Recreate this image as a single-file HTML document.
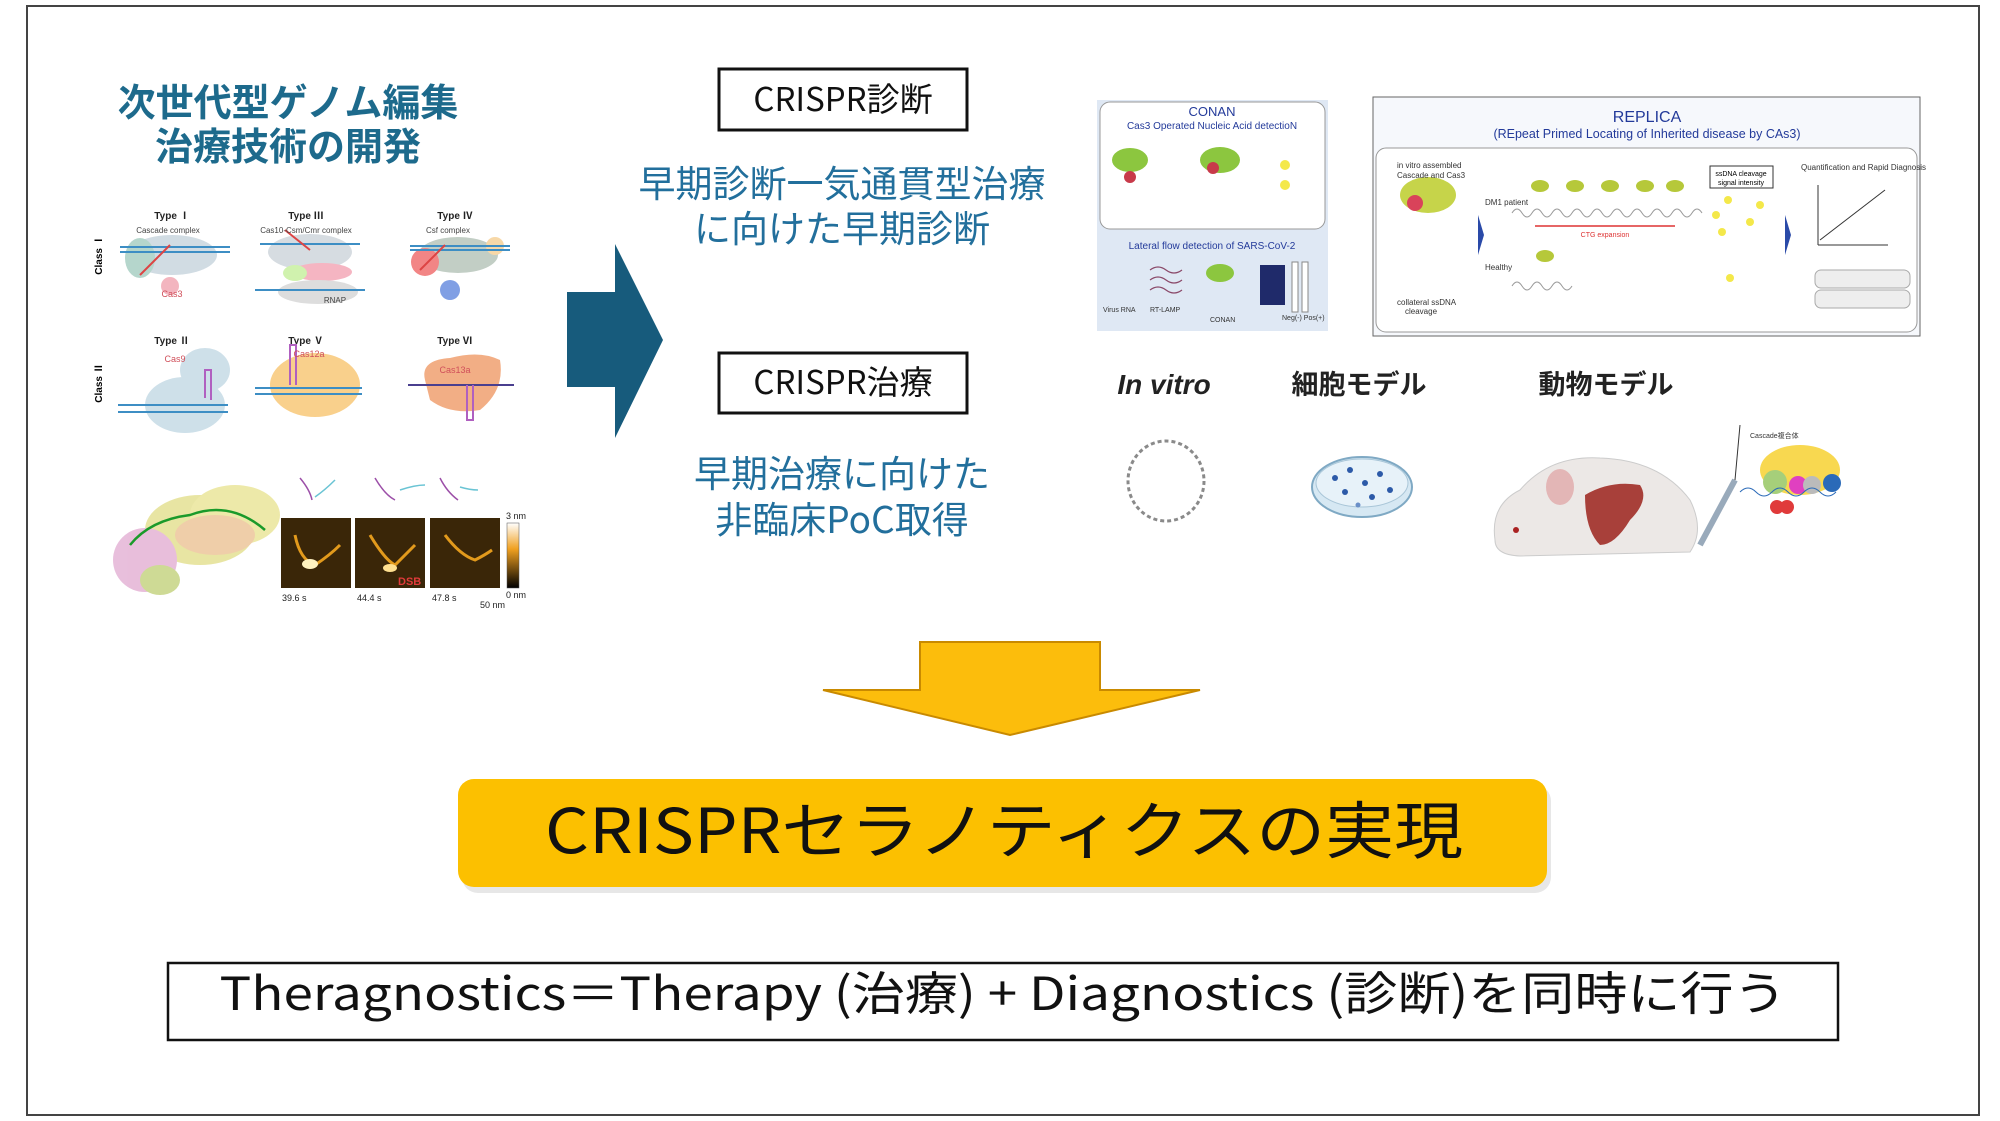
<!DOCTYPE html>
<html><head><meta charset="utf-8"><style>
html,body{margin:0;padding:0;background:#fff;}
svg{display:block;}
text{font-family:"Liberation Sans","Noto Sans CJK JP",sans-serif;}
.j{font-family:"Noto Sans CJK JP","Liberation Sans",sans-serif;}
</style></head><body>
<svg width="2000" height="1121" viewBox="0 0 2000 1121" xmlns="http://www.w3.org/2000/svg">
<rect x="0" y="0" width="2000" height="1121" fill="#fff"/>
<rect x="27" y="6" width="1952" height="1109" fill="none" stroke="#444" stroke-width="2"/>

<!-- Title -->
<text class="j" x="288" y="116" font-size="38" font-weight="bold" fill="#1d6a8c" text-anchor="middle">次世代型ゲノム編集</text>
<text class="j" x="288" y="160" font-size="38" font-weight="bold" fill="#1d6a8c" text-anchor="middle">治療技術の開発</text>

<!-- CRISPR types figure -->
<g font-size="10" font-weight="bold" fill="#222" text-anchor="middle">
<text x="172" y="219">Type Ⅰ</text><text x="306" y="219">Type Ⅲ</text><text x="455" y="219">Type Ⅳ</text>
<text x="172" y="344">Type Ⅱ</text><text x="306" y="344">Type Ⅴ</text><text x="455" y="344">Type Ⅵ</text>
</g>
<text x="102" y="255" font-size="10" font-weight="bold" transform="rotate(-90 102 255)" text-anchor="middle">Class Ⅰ</text>
<text x="102" y="383" font-size="10" font-weight="bold" transform="rotate(-90 102 383)" text-anchor="middle">Class Ⅱ</text>
<g opacity="0.85">
<ellipse cx="172" cy="255" rx="45" ry="20" fill="#c9d6df"/><ellipse cx="140" cy="258" rx="15" ry="20" fill="#a9cfc4"/><circle cx="170" cy="286" r="9" fill="#f2a9b4"/>
<ellipse cx="310" cy="252" rx="42" ry="18" fill="#cfd6dc"/><ellipse cx="322" cy="272" rx="30" ry="9" fill="#f4a9b8"/><ellipse cx="318" cy="292" rx="40" ry="12" fill="#d8d8d8"/><ellipse cx="295" cy="273" rx="12" ry="8" fill="#c8f0a0"/>
<ellipse cx="458" cy="255" rx="40" ry="18" fill="#b8c6bb"/><circle cx="425" cy="262" r="14" fill="#f07070"/><circle cx="450" cy="290" r="10" fill="#6a8fe0"/><circle cx="495" cy="246" r="9" fill="#f6d29a"/>
<ellipse cx="185" cy="405" rx="40" ry="28" fill="#c6dbe6"/><ellipse cx="205" cy="370" rx="25" ry="22" fill="#c6dbe6"/>
<ellipse cx="315" cy="385" rx="45" ry="32" fill="#f8c878"/>
<path d="M425 380 Q420 360 450 358 Q480 350 500 360 Q505 390 480 410 Q450 415 430 400Z" fill="#f0a070"/>
</g>
<g stroke="#3d8ec4" stroke-width="2" fill="none">
<line x1="120" y1="247" x2="230" y2="247"/><line x1="120" y1="252" x2="230" y2="252"/>
<line x1="260" y1="244" x2="360" y2="244"/><line x1="255" y1="290" x2="365" y2="290"/>
<line x1="410" y1="246" x2="510" y2="246"/><line x1="410" y1="250" x2="510" y2="250"/>
<line x1="118" y1="405" x2="228" y2="405"/><line x1="118" y1="412" x2="228" y2="412"/>
<line x1="255" y1="388" x2="362" y2="388"/><line x1="255" y1="394" x2="362" y2="394"/>
<line x1="408" y1="385" x2="514" y2="385" stroke="#4a3f8f"/>
</g>
<g stroke="#d44" stroke-width="2" fill="none"><line x1="140" y1="275" x2="170" y2="245"/><line x1="285" y1="230" x2="310" y2="250"/><line x1="420" y1="270" x2="445" y2="245"/></g>
<g stroke="#b060c0" stroke-width="2" fill="none"><path d="M205 398 V370 h6 V400"/><path d="M290 385 V345 h6 V385"/><path d="M467 385 V420 h6 V385"/></g>
<g font-size="9" fill="#d04f5a" text-anchor="middle"><text x="172" y="297">Cas3</text><text x="175" y="362">Cas9</text><text x="309" y="357">Cas12a</text><text x="455" y="373">Cas13a</text></g>
<g font-size="8" fill="#444" text-anchor="middle"><text x="168" y="233">Cascade complex</text><text x="306" y="233">Cas10-Csm/Cmr complex</text><text x="448" y="233">Csf complex</text><text x="335" y="303">RNAP</text></g>

<!-- protein + AFM -->
<g opacity="0.9">
<ellipse cx="200" cy="530" rx="55" ry="35" fill="#e6e39a"/><ellipse cx="235" cy="515" rx="45" ry="30" fill="#ece7a0"/>
<ellipse cx="215" cy="535" rx="40" ry="20" fill="#eec9a0"/><ellipse cx="145" cy="560" rx="32" ry="32" fill="#e6b8d8"/><ellipse cx="160" cy="580" rx="20" ry="15" fill="#c9d68a"/>
</g>
<path d="M130 545 Q150 520 190 515 Q230 500 265 530" stroke="#1a9a2a" stroke-width="2.5" fill="none"/>
<g stroke="#9c4fa8" stroke-width="1.5" fill="none"><path d="M300 478 Q310 490 312 500"/><path d="M375 478 Q385 495 395 500"/><path d="M440 478 Q447 492 458 500"/></g>
<g stroke="#6ac4d4" stroke-width="1.5" fill="none"><path d="M315 497 Q325 490 335 480"/><path d="M400 490 Q415 485 425 485"/><path d="M460 487 Q470 490 478 490"/></g>
<rect x="281" y="518" width="70" height="70" fill="#3a2608"/><rect x="355" y="518" width="70" height="70" fill="#3a2608"/><rect x="430" y="518" width="70" height="70" fill="#3a2608"/>
<g stroke="#e29a1c" stroke-width="3" fill="none"><path d="M295 535 Q300 560 315 565 Q330 555 340 545"/><path d="M370 535 Q385 560 395 565 Q405 555 415 545"/><path d="M445 535 Q460 555 475 560 Q485 555 492 550"/></g>
<ellipse cx="310" cy="564" rx="8" ry="5" fill="#fff2c0"/><ellipse cx="390" cy="568" rx="7" ry="4" fill="#ffe090"/>
<defs><linearGradient id="cb" x1="0" y1="0" x2="0" y2="1"><stop offset="0" stop-color="#fff"/><stop offset="0.4" stop-color="#f0a020"/><stop offset="1" stop-color="#000"/></linearGradient></defs>
<rect x="507" y="523" width="12" height="65" fill="url(#cb)" stroke="#555" stroke-width="0.5"/>
<g font-size="9" fill="#222"><text x="282" y="601">39.6 s</text><text x="357" y="601">44.4 s</text><text x="432" y="601">47.8 s</text><text x="506" y="519">3 nm</text><text x="506" y="598">0 nm</text><text x="480" y="608">50 nm</text></g>
<text x="398" y="585" font-size="11" font-weight="bold" fill="#e03a3a">DSB</text>

<!-- right arrow -->
<polygon points="567,292 615,292 615,244 663,340 615,438 615,387 567,387" fill="#175b7c"/>

<!-- CRISPR boxes -->
<rect x="719" y="69" width="248" height="61" fill="#fff" stroke="#111" stroke-width="3"/>
<text class="j" x="843" y="111" font-size="33" fill="#111" text-anchor="middle">CRISPR診断</text>
<text class="j" x="842" y="197" font-size="37" fill="#226f9c" text-anchor="middle">早期診断一気通貫型治療</text>
<text class="j" x="842" y="242" font-size="37" fill="#226f9c" text-anchor="middle">に向けた早期診断</text>
<rect x="719" y="353" width="248" height="60" fill="#fff" stroke="#111" stroke-width="3"/>
<text class="j" x="843" y="394" font-size="33" fill="#111" text-anchor="middle">CRISPR治療</text>
<text class="j" x="842" y="487" font-size="37" fill="#226f9c" text-anchor="middle">早期治療に向けた</text>
<text class="j" x="842" y="533" font-size="37" fill="#226f9c" text-anchor="middle">非臨床PoC取得</text>

<!-- CONAN panel -->
<rect x="1097" y="100" width="231" height="231" fill="#dfe8f4"/>
<rect x="1100" y="102" width="225" height="127" rx="10" fill="#fff" stroke="#999" stroke-width="1"/>
<text x="1212" y="116" font-size="13" fill="#233a9a" text-anchor="middle">CONAN</text>
<text x="1212" y="129" font-size="10" fill="#233a9a" text-anchor="middle">Cas3 Operated Nucleic Acid detectioN</text>
<ellipse cx="1130" cy="160" rx="18" ry="12" fill="#8cc63f"/><circle cx="1130" cy="177" r="6" fill="#c83a4a"/>
<ellipse cx="1220" cy="160" rx="20" ry="13" fill="#8cc63f"/><circle cx="1213" cy="168" r="6" fill="#c83a4a"/>
<circle cx="1285" cy="165" r="5" fill="#f4e84a"/><circle cx="1285" cy="185" r="5" fill="#f4e84a"/>
<text x="1212" y="249" font-size="10" fill="#233a9a" text-anchor="middle">Lateral flow detection of SARS-CoV-2</text>
<g stroke="#8b4a6a" stroke-width="1.2" fill="none"><path d="M1150 270 q8 -6 16 0 t16 0"/><path d="M1150 280 q8 -6 16 0 t16 0"/><path d="M1150 290 q8 -6 16 0 t16 0"/></g>
<ellipse cx="1220" cy="273" rx="14" ry="9" fill="#8cc63f"/>
<rect x="1260" y="265" width="25" height="40" fill="#1f2a6a"/><rect x="1292" y="262" width="6" height="50" fill="#fff" stroke="#888"/><rect x="1302" y="262" width="6" height="50" fill="#fff" stroke="#888"/>
<g font-size="7" fill="#333"><text x="1103" y="312">Virus RNA</text><text x="1150" y="312">RT-LAMP</text><text x="1210" y="322">CONAN</text><text x="1282" y="320">Neg(-) Pos(+)</text></g>

<!-- REPLICA panel -->
<rect x="1373" y="97" width="547" height="239" fill="#f6f8fc" stroke="#666" stroke-width="1"/>
<text x="1647" y="122" font-size="16" fill="#233a9a" text-anchor="middle">REPLICA</text>
<text x="1647" y="138" font-size="12.5" fill="#233a9a" text-anchor="middle">(REpeat Primed Locating of Inherited disease by CAs3)</text>
<rect x="1376" y="148" width="541" height="184" rx="10" fill="#fff" stroke="#999"/>
<ellipse cx="1428" cy="195" rx="28" ry="18" fill="#c6d44a"/><circle cx="1415" cy="203" r="8" fill="#d9435a"/>
<g font-size="8" fill="#333"><text x="1397" y="168">in vitro assembled</text><text x="1397" y="178">Cascade and Cas3</text><text x="1397" y="305">collateral ssDNA</text><text x="1405" y="314">cleavage</text><text x="1485" y="205">DM1 patient</text><text x="1485" y="270">Healthy</text><text x="1801" y="170">Quantification and Rapid Diagnosis</text></g>
<path d="M1512 213 q5 -8 10 0 t10 0 t10 0 t10 0 t10 0 t10 0 t10 0 t10 0 t10 0 t10 0 t10 0 t10 0 t10 0 t10 0 t10 0 t10 0 t10 0 t10 0 t10 0" stroke="#999" fill="none"/>
<path d="M1512 286 q5 -8 10 0 t10 0 t10 0 t10 0 t10 0 t10 0" stroke="#999" fill="none"/>
<line x1="1535" y1="226" x2="1675" y2="226" stroke="#d33" stroke-width="1.5"/><text x="1605" y="237" font-size="7" fill="#d33" text-anchor="middle">CTG expansion</text>
<g fill="#b6c83a"><ellipse cx="1540" cy="186" rx="9" ry="6"/><ellipse cx="1575" cy="186" rx="9" ry="6"/><ellipse cx="1610" cy="186" rx="9" ry="6"/><ellipse cx="1645" cy="186" rx="9" ry="6"/><ellipse cx="1675" cy="186" rx="9" ry="6"/><ellipse cx="1545" cy="256" rx="9" ry="6"/></g>
<rect x="1710" y="166" width="63" height="22" fill="#fff" stroke="#333"/><text x="1741" y="176" font-size="7" text-anchor="middle">ssDNA cleavage</text><text x="1741" y="185" font-size="7" text-anchor="middle">signal intensity</text>
<g fill="#f4e84a"><circle cx="1728" cy="200" r="4"/><circle cx="1760" cy="205" r="4"/><circle cx="1716" cy="215" r="4"/><circle cx="1750" cy="222" r="4"/><circle cx="1722" cy="232" r="4"/><circle cx="1730" cy="278" r="4"/></g>
<polygon points="1478,215 1484,235 1478,255" fill="#2a4aa8"/><polygon points="1785,215 1791,235 1785,255" fill="#2a4aa8"/>
<line x1="1820" y1="240" x2="1885" y2="190" stroke="#333"/><line x1="1818" y1="185" x2="1818" y2="245" stroke="#333"/><line x1="1818" y1="245" x2="1888" y2="245" stroke="#333"/>
<rect x="1815" y="270" width="95" height="18" rx="6" fill="#eee" stroke="#aaa"/><rect x="1815" y="290" width="95" height="18" rx="6" fill="#eee" stroke="#aaa"/>

<!-- labels -->
<text x="1164" y="394" font-size="28" font-weight="bold" font-style="italic" fill="#222" text-anchor="middle">In vitro</text>
<text class="j" x="1359" y="394" font-size="27" font-weight="bold" fill="#222" text-anchor="middle">細胞モデル</text>
<text class="j" x="1606" y="394" font-size="27" font-weight="bold" fill="#222" text-anchor="middle">動物モデル</text>

<!-- DNA circle -->
<ellipse cx="1166" cy="481" rx="38" ry="40" fill="none" stroke="#8a8a8a" stroke-width="3" stroke-dasharray="4 3"/>
<!-- petri -->
<ellipse cx="1362" cy="487" rx="50" ry="30" fill="#d6e8f3" stroke="#7fa9c4" stroke-width="2"/>
<ellipse cx="1362" cy="483" rx="46" ry="24" fill="#e7f2f9" stroke="#a9c6d8"/>
<g fill="#2c5aa8"><circle cx="1335" cy="478" r="3"/><circle cx="1350" cy="470" r="3"/><circle cx="1365" cy="483" r="3"/><circle cx="1380" cy="474" r="3"/><circle cx="1390" cy="490" r="3"/><circle cx="1345" cy="492" r="3"/><circle cx="1372" cy="497" r="3"/><circle cx="1358" cy="505" r="2.5" fill="#6a8fc8"/></g>
<!-- mouse -->
<path d="M1495 540 Q1490 505 1520 490 Q1550 455 1600 458 Q1660 460 1690 500 Q1705 530 1690 552 L1520 556 Q1495 555 1495 540Z" fill="#ece8e6" stroke="#ccc"/>
<ellipse cx="1560" cy="487" rx="14" ry="18" fill="#e3b6b6"/>
<circle cx="1516" cy="530" r="3" fill="#a22"/>
<path d="M1585 495 Q1610 480 1640 485 Q1650 500 1630 520 Q1615 545 1600 545 Q1585 530 1585 495Z" fill="#a8403a"/>
<line x1="1700" y1="545" x2="1735" y2="480" stroke="#9ab" stroke-width="6"/><line x1="1735" y1="480" x2="1740" y2="425" stroke="#333"/>
<!-- cascade complex -->
<ellipse cx="1800" cy="470" rx="40" ry="25" fill="#f8d850"/><circle cx="1775" cy="482" r="12" fill="#a6cf7a"/><circle cx="1798" cy="485" r="9" fill="#e040c0"/><circle cx="1812" cy="485" r="9" fill="#bbb"/><circle cx="1832" cy="483" r="9" fill="#2a6ab8"/>
<circle cx="1777" cy="507" r="7" fill="#e03a3a"/><circle cx="1787" cy="507" r="7" fill="#e03a3a"/>
<path d="M1740 492 q8 -8 16 0 t16 0 t16 0 t16 0 t16 0 t16 0" stroke="#2a6ab8" fill="none"/>
<text x="1750" y="438" font-size="7" fill="#333">Cascade複合体</text>

<!-- down arrow -->
<polygon points="920,642 1100,642 1100,690 1200,690 1010,735 823,690 920,690" fill="#fcbd0c" stroke="#c98a00" stroke-width="2"/>

<!-- orange box -->
<rect x="462" y="785" width="1089" height="108" rx="16" fill="#d7d7d7" opacity="0.6"/>
<rect x="458" y="779" width="1089" height="108" rx="16" fill="#fcc000"/>
<text class="j" x="1004" y="853" font-size="62" fill="#111" text-anchor="middle" textLength="918" lengthAdjust="spacingAndGlyphs">CRISPRセラノティクスの実現</text>

<!-- bottom box -->
<rect x="168" y="963" width="1670" height="77" fill="#fff" stroke="#111" stroke-width="2.5"/>
<text class="j" x="1003" y="1010" font-size="46" fill="#111" text-anchor="middle" textLength="1567" lengthAdjust="spacingAndGlyphs">Theragnostics＝Therapy (治療) + Diagnostics (診断)を同時に行う</text>
</svg>
</body></html>
